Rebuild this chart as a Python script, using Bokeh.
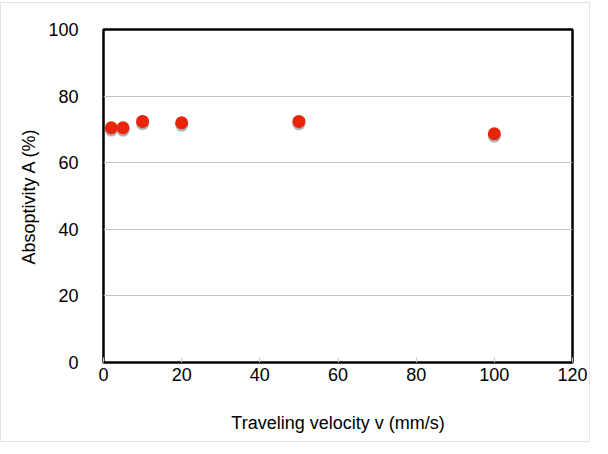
from bokeh.plotting import figure
from bokeh.models import Range1d, FixedTicker
from bokeh.embed import file_html
from bokeh.resources import INLINE

velocity = [2, 5, 10, 20, 50, 100]
absorptivity = [70.5, 70.5, 72.4, 72.0, 72.4, 68.7]
x_ticks = [0, 20, 40, 60, 80, 100, 120]
y_ticks = [0, 20, 40, 60, 80, 100]

FONT = "Liberation Sans"

p = figure(width=590, height=440, output_backend="svg", toolbar_location=None,
           x_range=Range1d(0, 120), y_range=Range1d(0, 100),
           min_border_left=102, min_border_right=19, min_border_top=26, min_border_bottom=81)
p.styles = {"border": "1px solid #e2e2e2", "margin-top": "2px"}

p.outline_line_color = "black"
p.outline_line_width = 2.5
p.outline_line_alpha = 1

p.xgrid.visible = False
p.ygrid.ticker = FixedTicker(ticks=[20, 40, 60, 80])
p.ygrid.grid_line_color = "#c4c4c4"
p.ygrid.grid_line_width = 1

p.xaxis.ticker = FixedTicker(ticks=x_ticks)
p.yaxis.ticker = FixedTicker(ticks=y_ticks)
for ax in (p.xaxis[0], p.yaxis[0]):
    ax.axis_line_color = None
    ax.minor_tick_line_color = None
    ax.major_label_text_font = FONT
    ax.major_label_text_font_size = "18px"
    ax.major_label_text_color = "black"
    ax.axis_label_text_font = FONT
    ax.axis_label_text_font_size = "18px"
    ax.axis_label_text_font_style = "normal"
    ax.axis_label_text_color = "black"

p.xaxis.major_tick_in = 5
p.xaxis.major_tick_out = 0
p.xaxis.major_tick_line_color = "#c8c8c8"
p.xaxis.major_label_standoff = 5
p.xaxis.axis_label = "Traveling velocity v (mm/s)"
p.xaxis.axis_label_standoff = 29

p.yaxis.major_tick_line_color = None
p.yaxis.major_label_standoff = 19
p.yaxis.axis_label = "Absoptivity A (%)"
p.yaxis.axis_label_standoff = 6

shadow_y = [v - 0.7 for v in absorptivity]
p.scatter(velocity, shadow_y, size=13, fill_color="#9a9a9a", line_color=None, fill_alpha=0.8)
p.scatter(velocity, absorptivity, size=13, fill_color="#e8240a", line_color=None)

open("out.html", "w").write(file_html(p, INLINE))
